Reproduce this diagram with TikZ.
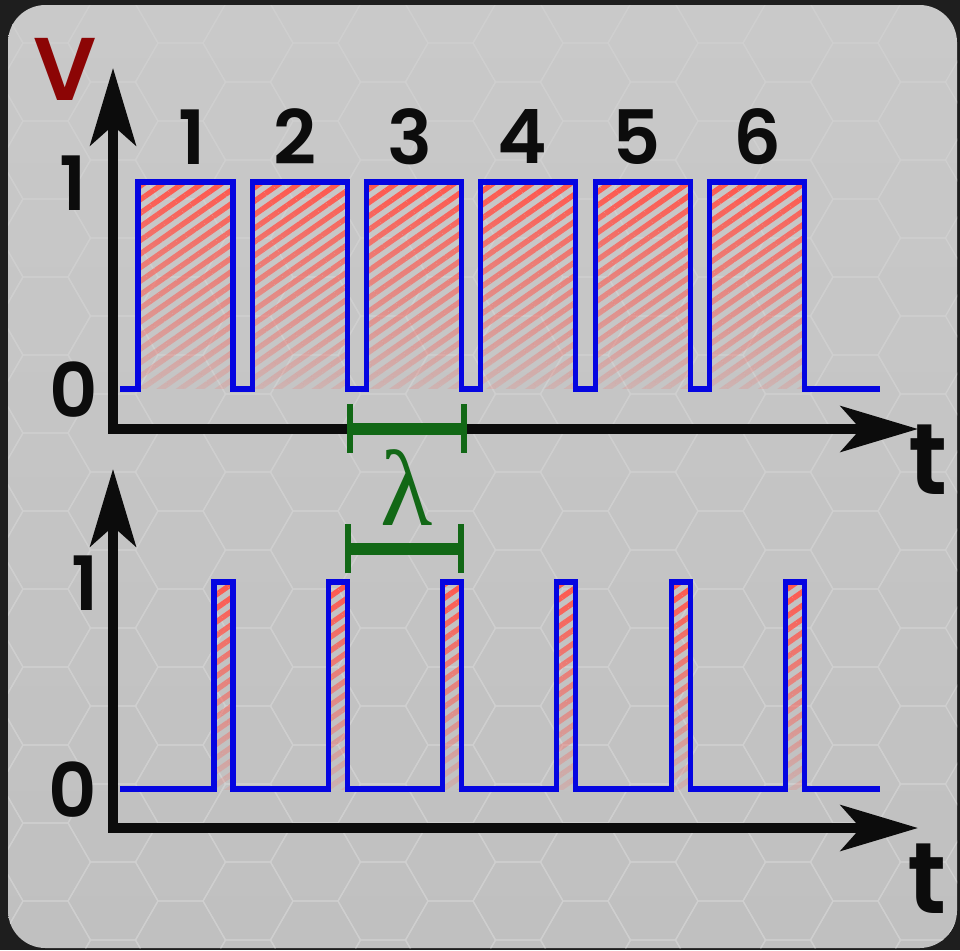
\documentclass[tikz,border=0pt]{standalone}
\usepackage{fontspec}
\setmainfont{Poppins}[BoldFont={Poppins SemiBold}]
\newfontfamily\lamfont{Liberation Serif}
\usetikzlibrary{arrows.meta, patterns.meta, fadings}

\definecolor{darkbg}{RGB}{30,30,30}
\definecolor{panellight}{RGB}{201,201,201}
\definecolor{paneldark}{RGB}{192,192,192}
\definecolor{hexgray}{RGB}{207,207,207}
\definecolor{wireblue}{RGB}{5,5,225}
\definecolor{hatchred}{RGB}{255,88,78}
\definecolor{lamgreen}{RGB}{18,104,22}
\definecolor{vred}{RGB}{140,5,5}
\definecolor{ink}{RGB}{12,12,12}

\tikzfading[name=hatchfade, top color=transparent!0, bottom color=transparent!85]

\begin{document}
\begin{tikzpicture}[
    x=0.03cm, y=-0.03cm,
    axis/.style = {draw=ink, line width=8.5pt, line join=miter,
        {Stealth[length=66pt, width=39pt, inset=17pt]}-{Stealth[length=66pt, width=39pt, inset=17pt]}},
    wave/.style = {draw=wireblue, line width=4.3pt, line join=miter},
    hatch/.style = {pattern={Lines[angle=35, distance=9.5pt, line width=4.6pt]}, pattern color=hatchred, path fading=hatchfade},
    lambar/.style = {draw=lamgreen, line width=10pt},
    lamtick/.style = {draw=lamgreen, line width=5pt},
    digit/.style = {inner sep=0pt, text=ink, font=\fontsize{64}{64}\selectfont\bfseries},
    hexline/.style = {draw=hexgray, line width=1.1pt}]

    % frame and panel
    \useasboundingbox (0,0) rectangle (960,950);
    \fill[darkbg] (0,0) rectangle (960,950);
    \begin{scope}
        \clip[rounded corners=32] (8,5) rectangle (957,948);
        \shade[top color=panellight, bottom color=paneldark] (8,5) rectangle (957,948);
        \foreach \j in {-1,...,14}
            \foreach \m in {-2,...,12} {
                \pgfmathsetmacro\hx{855.5-67.5*\j}
                \pgfmathsetmacro\hy{82+78*\m+39*mod(\j+2,2)}
                \draw[hexline] (\hx,\hy) +(-45,0) -- +(-22.5,-39) -- +(22.5,-39)
                    -- +(45,0) -- +(22.5,39) -- +(-22.5,39) -- cycle;
            }
    \end{scope}

    % upper chart: wide pulses
    \coordinate (O1) at (113,429);
    \coordinate (Y1) at (113,68);
    \coordinate (X1) at (918,429);
    \foreach \k in {0,...,5}
        \fill[hatch] ({138+114.3*\k},182) rectangle ({233+114.3*\k},389);
    \draw[wave] (120,389) foreach \k in {0,...,5} {
        -- ({138+114.3*\k},389) -- ({138+114.3*\k},182)
        -- ({233+114.3*\k},182) -- ({233+114.3*\k},389) } -- (880,389);
    \draw[axis] (Y1) -- (O1) -- (X1);

    \node[digit, text=vred, font=\fontsize{76}{76}\selectfont\bfseries] (V) at (65,69) {V};
    \node[digit] (hi1) at (73,183) {1};
    \node[digit] (lo1) at (74,390) {0};
    \node[digit, font=\fontsize{86}{86}\selectfont\bfseries] (t1) at (928,460) {t};
    \foreach \n/\x in {1/192, 2/295, 3/410, 4/522, 5/637, 6/757}
        \node[digit] (p\n) at (\x,137) {\n};

    % period markers
    \coordinate (la) at (350,429);
    \coordinate (lb) at (464,429);
    \coordinate (lc) at (348,549);
    \coordinate (ld) at (461,549);
    \draw[lambar] (la) -- (lb);
    \draw[lambar] (lc) -- (ld);
    \foreach \c in {la,lb,lc,ld}
        \draw[lamtick] (\c) ++(0,-25) -- ++(0,49);
    \node[inner sep=0pt, text=lamgreen, font=\fontsize{92}{92}\selectfont\lamfont] (lam) at (407,488) {λ};

    % lower chart: narrow pulses
    \coordinate (O2) at (113,828);
    \coordinate (Y2) at (113,469);
    \coordinate (X2) at (918,828);
    \foreach \k in {0,...,5}
        \fill[hatch] ({214+114.3*\k},582) rectangle ({233+114.3*\k},789);
    \draw[wave] (120,789) foreach \k in {0,...,5} {
        -- ({214+114.3*\k},789) -- ({214+114.3*\k},582)
        -- ({233+114.3*\k},582) -- ({233+114.3*\k},789) } -- (880,789);
    \draw[axis] (Y2) -- (O2) -- (X2);

    \node[digit] (hi2) at (85,583) {1};
    \node[digit] (lo2) at (73,790) {0};
    \node[digit, font=\fontsize{86}{86}\selectfont\bfseries] (t2) at (927,879) {t};
\end{tikzpicture}
\end{document}
